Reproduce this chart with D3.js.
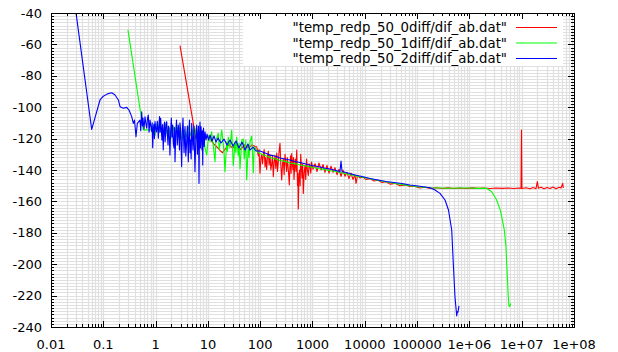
<!DOCTYPE html>
<html>
<head>
<meta charset="utf-8">
<script src="https://cdn.jsdelivr.net/npm/d3@7"></script>
<style>
  html, body { margin: 0; padding: 0; background: #fff; }
  svg { display: block; font-family: "DejaVu Sans", sans-serif; }
</style>
</head>
<body>
<div id="chart"></div>
<script>
/// Data: [x, y] pairs
const seriesNames = [
  '"temp_redp_50_0diff/dif_ab.dat"',
  '"temp_redp_50_1diff/dif_ab.dat"',
  '"temp_redp_50_2diff/dif_ab.dat"'
];
const seriesColors = ["#ff0000", "#00ff00", "#0000ff"];

const xTickValues = [0.01, 0.1, 1, 10, 100, 1000, 10000, 100000, 1e6, 1e7, 1e8];
const xTickLabels = ["0.01", "0.1", "1", "10", "100", "1000", "10000", "100000", "1e+06", "1e+07", "1e+08"];
const yTickValues = [-40, -60, -80, -100, -120, -140, -160, -180, -200, -220, -240];

const red0diff = [
  [2.93, -60.8], [5.26, -110.3], [5.9, -120], [6.5, -116], [7.2, -121], [8.0, -117], [9.0, -119],
  [10.0, -119], [11.5, -121], [13, -123.5], [15, -125.5], [17, -127.5], [19, -129], [21, -127],
  [25, -124], [30, -126], [35, -123], [42, -127], [50, -124], [60, -126], [70, -124], [80, -125],
  [85.7, -125.2], [89, -128], [92, -131], [95, -127], [99, -142.1], [103, -133], [107, -130],
  [111, -136], [115, -130.2], [119, -127], [124, -138], [128, -132], [133, -139.7], [138, -131],
  [143, -128], [148, -137], [154, -130.2], [160, -140], [166, -136], [172, -131], [178, -144.3],
  [185, -135], [192, -131], [199, -139], [207, -129.2], [214, -141], [222, -135], [230, -128],
  [239, -123], [248, -137], [258, -146.4], [267, -136], [277, -133], [287, -143], [298, -130],
  [309, -135], [321, -141], [330, -132], [340, -137], [350, -143], [360, -149.6], [370, -138],
  [380, -131], [390, -142], [400, -129.5], [412, -136], [424, -140], [433, -132], [443, -146],
  [456, -138], [469, -133], [484, -141], [499, -127.3], [508, -138], [517, -150], [526, -142],
  [535, -164.8], [549, -146], [564, -140], [580, -150], [595, -130], [612, -138], [630, -145],
  [648, -136], [667, -154.9], [692, -142], [719, -137], [743, -146], [768, -133], [800, -140],
  [832, -143.5], [864, -136], [896, -138], [927, -142], [957, -135], [1020, -139.5], [1120, -136],
  [1220, -141], [1330, -135.5], [1460, -140], [1590, -136.5], [1730, -141.5], [1890, -137],
  [2070, -142], [2260, -137.5], [2470, -141.5], [2690, -138.5], [2940, -143], [3210, -139.5],
  [3510, -144], [3830, -140], [4180, -144], [4570, -141.5], [4990, -145.5], [5450, -142],
  [5940, -146], [6500, -143], [6790, -148.5], [7250, -143.5], [8090, -145], [9240, -144.5],
  [10500, -146], [12600, -145.5], [15000, -147], [17900, -146.5], [21300, -148], [25400, -147.5],
  [30300, -149], [37800, -148.5], [47100, -150], [58800, -149.5], [73100, -150.5], [91200, -150.5],
  [113000, -151.5], [142000, -151], [177000, -151.8], [230000, -151.3], [299000, -151.8],
  [390000, -151.4], [507000, -151.8], [661000, -151.5], [861000, -151.8], [1.12e6, -151.4],
  [1.46e6, -151.7], [1.9e6, -151.5], [2.48e6, -151.8], [3.23e6, -151.5], [4.2e6, -151.7],
  [5.47e6, -151.5], [7.13e6, -151.8], [8.88e6, -151.5], [9.7e6, -151.6], [9.91e6, -114.5],
  [1.01e7, -151.8], [1.21e7, -151.3], [1.44e7, -152], [1.65e7, -151.2], [1.88e7, -151.9],
  [1.99e7, -147.4], [2.09e7, -151.6], [2.34e7, -151], [2.67e7, -152], [3.05e7, -151.2],
  [3.48e7, -151.8], [3.97e7, -150.8], [4.53e7, -151.9], [5.17e7, -151], [5.64e7, -151.5],
  [6.08e7, -148.5], [6.24e7, -151.5]
];

const green1diff = [
  [0.296, -50.8], [0.58, -114.5], [0.62, -114.6], [0.68, -114.4], [0.75, -114.5], [0.8, -114.5],
  [0.89, -112], [0.975, -118], [1.07, -110], [1.16, -116], [1.27, -112], [1.39, -121], [1.52, -111],
  [1.66, -117], [1.8, -113], [1.96, -120], [2.15, -112], [2.35, -118], [2.53, -110.9], [2.7, -117],
  [2.94, -113], [3.21, -121], [3.51, -114], [3.84, -119], [4.19, -112], [4.58, -118], [5.0, -114],
  [5.46, -121], [5.97, -113], [6.52, -118], [7.13, -115], [7.79, -120], [8.17, -116.6], [8.81, -126],
  [9.49, -130.5], [10.3, -118], [11.0, -122], [11.8, -115.6], [12.8, -126], [13.7, -134.7],
  [14.2, -121], [14.7, -120], [15.8, -116.6], [16.4, -127], [17.0, -124], [18.4, -114.5],
  [19.9, -125], [20.5, -131], [21.2, -141.1], [22.9, -122], [23.7, -128], [24.5, -119],
  [26.5, -126], [27.5, -120], [28.5, -114.5], [29.5, -125], [30.6, -137.3], [33.0, -122],
  [34.3, -129], [35.6, -119], [38.1, -131], [39.5, -123], [41.1, -139.2], [44.3, -121],
  [47.5, -120.3], [49.5, -133], [51.2, -128], [53, -121], [55.2, -146.4], [59.3, -124],
  [61.5, -132], [63.8, -122], [68.7, -118.4], [71, -128], [73.8, -141.8], [76.5, -127],
  [79.6, -125.5], [86.9, -128], [99, -129.5], [124, -130.8], [154, -132], [192, -132.8],
  [239, -134], [298, -134.5], [371, -135.5], [463, -136], [577, -136.8], [751, -137.5],
  [978, -138.3], [1270, -139], [1660, -139.6], [2160, -140.5], [2810, -141], [3670, -141.8],
  [5210, -143], [8090, -144.3], [12600, -145.6], [19500, -146.8], [30300, -148], [47100, -149],
  [73100, -150], [113000, -150.8], [177000, -151.3], [274000, -151.5], [426000, -151.6],
  [661000, -151.5], [1.03e6, -151.5], [1.46e6, -151.7], [2.14e6, -151.7], [2.67e6, -153.8],
  [3.32e6, -159.1], [3.94e6, -166], [4.65e6, -178.2], [5.01e6, -188.9], [5.16e6, -199.4],
  [5.54e6, -220.7], [5.71e6, -226.6], [5.83e6, -227], [5.98e6, -226.5], [6.16e6, -225]
];

const blue2diff = [
  [0.025, -20], [0.06, -114.1], [0.0865, -95.4], [0.1, -93], [0.12, -91.5], [0.145, -90.8],
  [0.168, -92.2], [0.194, -95.4], [0.209, -99.7], [0.241, -100.7], [0.28, -100.1], [0.31, -101.8],
  [0.349, -106], [0.375, -110.3], [0.395, -108.2], [0.422, -118.8], [0.447, -110.3], [0.503, -108.2],
  [0.52, -115], [0.542, -102.9], [0.56, -112], [0.574, -106.9], [0.6, -114], [0.627, -106.1],
  [0.65, -110], [0.676, -113.4], [0.7, -107], [0.725, -105], [0.75, -116], [0.782, -108.2],
  [0.81, -112], [0.842, -115.6], [0.86, -110], [0.88, -125.8], [0.905, -114], [0.931, -110.7],
  [0.95, -120], [0.975, -109.2], [1.0, -113], [1.04, -115.8], [1.08, -109], [1.13, -119.8],
  [1.16, -111], [1.19, -106], [1.22, -116], [1.25, -107.1], [1.28, -113], [1.32, -120.9],
  [1.36, -111], [1.4, -127.3], [1.44, -114], [1.48, -109.4], [1.52, -122], [1.55, -117.7],
  [1.59, -110], [1.63, -109.2], [1.68, -118], [1.73, -124.1], [1.76, -112], [1.8, -113.3],
  [1.84, -121], [1.88, -130.5], [1.94, -115], [2.0, -106.9], [2.06, -119], [2.12, -111.3],
  [2.18, -123], [2.25, -126], [2.3, -113], [2.35, -134.7], [2.43, -117], [2.51, -108.2],
  [2.6, -124], [2.72, -111.3], [2.79, -119], [2.86, -127.3], [2.92, -110], [2.99, -113.3],
  [3.07, -125], [3.15, -137.9], [3.24, -116], [3.34, -106.9], [3.5, -129], [3.65, -112.4],
  [3.78, -131], [3.9, -124.1], [4.05, -112], [4.22, -134.7], [4.33, -117], [4.45, -108.2],
  [4.55, -129], [4.65, -120.9], [4.78, -133], [4.9, -110.3], [5.05, -119], [5.19, -127.3],
  [5.4, -112], [5.66, -141.1], [5.9, -118], [6.11, -111.3], [6.3, -130], [6.47, -117.7],
  [6.6, -112], [6.76, -148.5], [6.9, -120], [7.06, -109.4], [7.2, -126], [7.38, -112.4],
  [7.55, -118], [7.71, -127.3], [7.85, -115], [7.96, -136.8], [8.1, -120], [8.24, -113.3],
  [8.5, -125], [8.81, -115.6], [9.2, -120.9], [9.62, -117.1], [10.3, -120.9], [11.0, -117.7],
  [12.0, -121.5], [13.1, -118.3], [14.3, -122.2], [15.6, -119.6], [17.8, -122.8], [20.3, -120.3],
  [23.2, -124.1], [26.5, -120.9], [30.2, -124.7], [34.5, -121.5], [39.3, -126], [44.9, -122.2],
  [51.2, -127.3], [58.4, -123.4], [63.8, -127.3], [72.8, -125.4], [83.2, -127.9], [99, -127.9],
  [124, -129.2], [154, -130.5], [192, -131.1], [239, -132.4], [298, -133], [371, -133.6],
  [463, -134.6], [577, -135.2], [751, -136.2], [978, -137.1], [1270, -137.8], [1660, -138.7],
  [2160, -139.4], [2810, -140.3], [3350, -141], [3510, -134.3], [3670, -141], [4770, -141.9],
  [6500, -143.2], [8840, -144.1], [12600, -145.4], [17900, -146.4], [25400, -147.3], [36100, -148],
  [51400, -148.6], [73100, -149.6], [104000, -150.2], [142000, -150.8], [177000, -151.3],
  [220000, -152.7], [274000, -154.9], [342000, -159.1], [398000, -165.5], [459000, -178.2],
  [492000, -199.4], [530000, -220.7], [572000, -233], [587000, -230.3], [605000, -230.5],
  [632000, -226.6]
];

const allSeries = [red0diff, green1diff, blue2diff];

/// Layout
const l_Width = 618, l_Height = 352;
const l_Margin = { top: 13, right: 44, bottom: 25, left: 51 };
const l_Left = l_Margin.left, l_Right = l_Width - l_Margin.right;
const l_Top = l_Margin.top, l_Bottom = l_Height - l_Margin.bottom;

const x = d3.scaleLog().domain([0.01, 1e8]).range([l_Left, l_Right]);
const y = d3.scaleLinear().domain([-240, -40]).range([l_Bottom, l_Top]);

const svg = d3.select("#chart").append("svg")
  .attr("width", l_Width)
  .attr("height", l_Height);

svg.append("defs").append("clipPath").attr("id", "plotClip")
  .append("rect")
  .attr("x", l_Left).attr("y", l_Top)
  .attr("width", l_Right - l_Left).attr("height", l_Bottom - l_Top);

/// Minor / major positions
let l_XMinor = [];
for (let e = -2; e < 8; e++)
  for (let m = 2; m <= 9; m++) l_XMinor.push(m * Math.pow(10, e));
let l_YMinor = d3.range(-238, -40, 2).filter(v => v % 20 !== 0);
let l_YAll = d3.range(-238, -40, 2);

/// Grid
const grid = svg.append("g").attr("stroke", "#e0e0e0").attr("stroke-width", 1.2);
grid.selectAll(".gx").data(xTickValues.slice(1, -1).concat(l_XMinor)).enter().append("line")
  .attr("x1", d => Math.round(x(d)) + 0.5).attr("x2", d => Math.round(x(d)) + 0.5)
  .attr("y1", l_Top).attr("y2", l_Bottom);
grid.selectAll(".gy").data(l_YAll).enter().append("line")
  .attr("x1", l_Left).attr("x2", l_Right)
  .attr("y1", d => Math.round(y(d)) + 0.5).attr("y2", d => Math.round(y(d)) + 0.5);

/// Key box (drawn over the grid)
svg.append("rect")
  .attr("x", 243).attr("y", l_Top + 1)
  .attr("width", 320).attr("height", 52)
  .attr("fill", "#fff");

/// Series
const line = d3.line().x(d => x(d[0])).y(d => y(d[1]));
svg.append("g").attr("clip-path", "url(#plotClip)")
  .selectAll("path").data(allSeries).enter().append("path")
  .attr("d", line)
  .attr("fill", "none")
  .attr("stroke", (d, i) => seriesColors[i])
  .attr("stroke-width", 1.1)
  .attr("stroke-linejoin", "round");

/// Axes: ticks inward on all four sides
const axes = svg.append("g").attr("stroke", "#000").attr("stroke-width", 1);
const l_XTicks = xTickValues.map(v => ({ v: v, len: 6 })).concat(l_XMinor.map(v => ({ v: v, len: 3 })));
l_XTicks.forEach(t => {
  let px = Math.round(x(t.v)) + 0.5;
  axes.append("line").attr("x1", px).attr("x2", px).attr("y1", l_Bottom).attr("y2", l_Bottom - t.len);
  axes.append("line").attr("x1", px).attr("x2", px).attr("y1", l_Top).attr("y2", l_Top + t.len);
});
const l_YTicks = yTickValues.map(v => ({ v: v, len: 6 })).concat(l_YMinor.map(v => ({ v: v, len: 3 })));
l_YTicks.forEach(t => {
  let py = Math.round(y(t.v)) + 0.5;
  axes.append("line").attr("x1", l_Left).attr("x2", l_Left + t.len).attr("y1", py).attr("y2", py);
  axes.append("line").attr("x1", l_Right).attr("x2", l_Right - t.len).attr("y1", py).attr("y2", py);
});
axes.append("rect")
  .attr("x", l_Left + 0.5).attr("y", l_Top + 0.5)
  .attr("width", l_Right - l_Left).attr("height", l_Bottom - l_Top)
  .attr("fill", "none");

/// Tick labels
svg.append("g").selectAll("text").data(xTickValues).enter().append("text")
  .attr("x", d => x(d)).attr("y", l_Bottom + 17)
  .attr("text-anchor", "middle").attr("dominant-baseline", "central")
  .attr("font-size", 13).attr("fill", "#000")
  .text((d, i) => xTickLabels[i]);
svg.append("g").selectAll("text").data(yTickValues).enter().append("text")
  .attr("x", l_Left - 9).attr("y", d => y(d))
  .attr("text-anchor", "end").attr("dominant-baseline", "central")
  .attr("font-size", 13).attr("fill", "#000")
  .text(d => d);

/// Key
const key = svg.append("g");
seriesNames.forEach((name, i) => {
  let ky = 27.5 + i * 15.5;
  key.append("text")
    .attr("x", 507).attr("y", ky)
    .attr("text-anchor", "end").attr("dominant-baseline", "central")
    .attr("font-size", 13.3).attr("fill", "#000")
    .text(name);
  key.append("line")
    .attr("x1", 516).attr("x2", 557).attr("y1", ky).attr("y2", ky)
    .attr("stroke", seriesColors[i]).attr("stroke-width", 1.2);
});
</script>
</body>
</html>
